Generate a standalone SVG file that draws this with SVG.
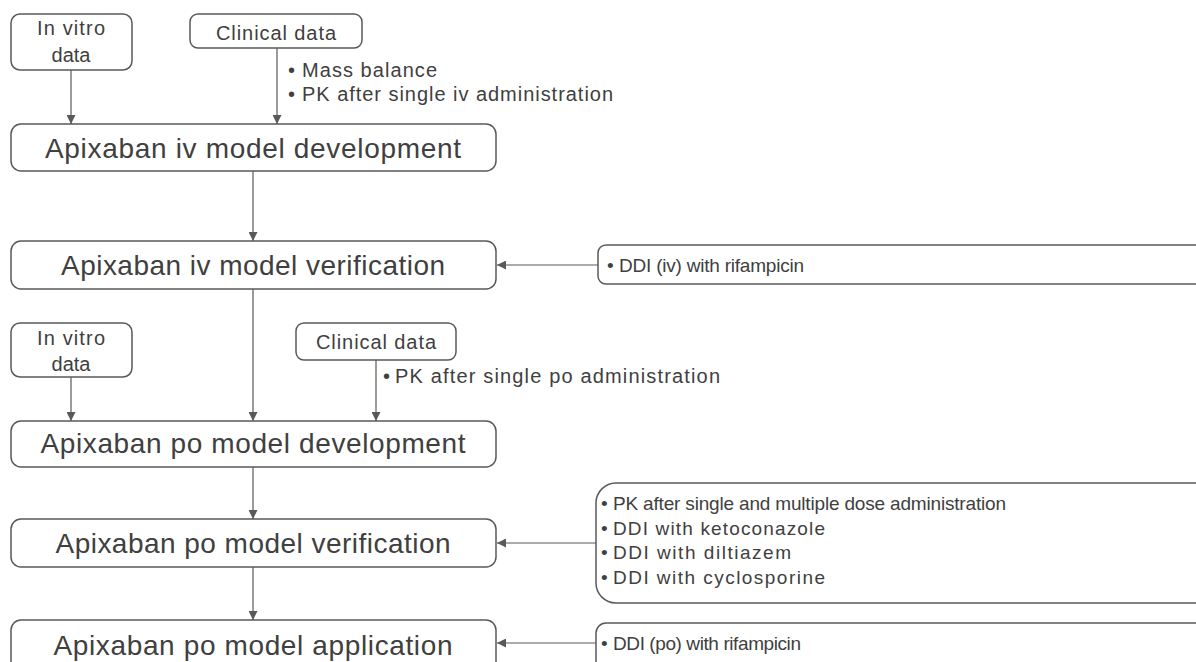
<svg xmlns="http://www.w3.org/2000/svg" width="1196" height="662" viewBox="0 0 1196 662">
<style>
.box{fill:#fff;stroke:#595959;stroke-width:1.5}
.t{font-family:"Liberation Sans",Arial,sans-serif;fill:#404040}
.big{font-size:28px;text-anchor:middle}
.sm{font-size:20px}
.rs{font-size:19px}
.c{text-anchor:middle}
.ln{stroke:#595959;stroke-width:1.2;fill:none}
</style>
<defs>
<marker id="ah" viewBox="0 0 10 10" refX="10" refY="5" markerWidth="9" markerHeight="9" markerUnits="userSpaceOnUse" orient="auto">
<path d="M0,0 L10,5 L0,10 z" fill="#595959"/>
</marker>
</defs>
<rect width="1196" height="662" fill="#fff"/>
<g id="connectors">
<line class="ln" x1="71" y1="70" x2="71" y2="124" marker-end="url(#ah)"/>
<line class="ln" x1="277" y1="48" x2="277" y2="124" marker-end="url(#ah)"/>
<line class="ln" x1="253" y1="171" x2="253" y2="241" marker-end="url(#ah)"/>
<line class="ln" x1="598" y1="265" x2="497" y2="265" marker-end="url(#ah)"/>
<line class="ln" x1="253" y1="289" x2="253" y2="421" marker-end="url(#ah)"/>
<line class="ln" x1="71" y1="377" x2="71" y2="421" marker-end="url(#ah)"/>
<line class="ln" x1="376" y1="360" x2="376" y2="421" marker-end="url(#ah)"/>
<line class="ln" x1="253" y1="467" x2="253" y2="519" marker-end="url(#ah)"/>
<line class="ln" x1="596" y1="543" x2="497" y2="543" marker-end="url(#ah)"/>
<line class="ln" x1="253" y1="567" x2="253" y2="620" marker-end="url(#ah)"/>
<line class="ln" x1="596" y1="643" x2="497" y2="643" marker-end="url(#ah)"/>
</g>
<g id="invitro1">
<rect class="box" x="11" y="14" width="121" height="56" rx="9"/>
<text class="t sm c" x="71" y="35" textLength="68">In vitro</text>
<text class="t sm c" x="71" y="62">data</text>
</g>
<g id="clinical1">
<rect class="box" x="190" y="14" width="172" height="34" rx="8"/>
<text class="t sm c" x="276" y="40" textLength="120">Clinical data</text>
</g>
<g id="clinical1-notes">
<text class="t sm" x="288" y="77">•</text>
<text class="t sm" x="302" y="77" textLength="135">Mass balance</text>
<text class="t sm" x="288" y="101">•</text>
<text class="t sm" x="302" y="101" textLength="311">PK after single iv administration</text>
</g>
<g id="iv-dev">
<rect class="box" x="11" y="124" width="485" height="47" rx="10"/>
<text class="t big" x="253" y="158" textLength="416">Apixaban iv model development</text>
</g>
<g id="iv-verif">
<rect class="box" x="11" y="241" width="485" height="48" rx="10"/>
<text class="t big" x="253" y="275" textLength="384">Apixaban iv model verification</text>
</g>
<g id="iv-verif-data">
<rect class="box" x="598" y="245" width="700" height="39" rx="8"/>
<text class="t rs" x="607" y="272">•</text>
<text class="t rs" x="619" y="272" textLength="185">DDI (iv) with rifampicin</text>
</g>
<g id="invitro2">
<rect class="box" x="11" y="323" width="121" height="54" rx="9"/>
<text class="t sm c" x="71" y="345" textLength="68">In vitro</text>
<text class="t sm c" x="71" y="371">data</text>
</g>
<g id="clinical2">
<rect class="box" x="296" y="323" width="160" height="37" rx="8"/>
<text class="t sm c" x="376" y="349" textLength="120">Clinical data</text>
</g>
<g id="clinical2-notes">
<text class="t sm" x="383" y="383">•</text>
<text class="t sm" x="395" y="383" textLength="325">PK after single po administration</text>
</g>
<g id="po-dev">
<rect class="box" x="11" y="421" width="485" height="46" rx="10"/>
<text class="t big" x="253" y="453" textLength="425">Apixaban po model development</text>
</g>
<g id="po-verif">
<rect class="box" x="11" y="519" width="485" height="48" rx="10"/>
<text class="t big" x="253" y="553" textLength="395">Apixaban po model verification</text>
</g>
<g id="po-verif-data">
<rect class="box" x="596" y="483" width="700" height="120" rx="20"/>
<text class="t rs" x="601" y="510">•</text>
<text class="t rs" x="613" y="510" textLength="393">PK after single and multiple dose administration</text>
<text class="t rs" x="601" y="535">•</text>
<text class="t rs" x="613" y="535" textLength="212">DDI with ketoconazole</text>
<text class="t rs" x="601" y="559">•</text>
<text class="t rs" x="613" y="559" textLength="178">DDI with diltiazem</text>
<text class="t rs" x="601" y="584">•</text>
<text class="t rs" x="613" y="584" textLength="212">DDI with cyclosporine</text>
</g>
<g id="po-app">
<rect class="box" x="11" y="620" width="485" height="52" rx="10"/>
<text class="t big" x="253" y="655" textLength="399">Apixaban po model application</text>
</g>
<g id="po-app-data">
<rect class="box" x="596" y="623" width="700" height="60" rx="10"/>
<text class="t rs" x="601" y="650">•</text>
<text class="t rs" x="613" y="650" textLength="188">DDI (po) with rifampicin</text>
</g>
</svg>
